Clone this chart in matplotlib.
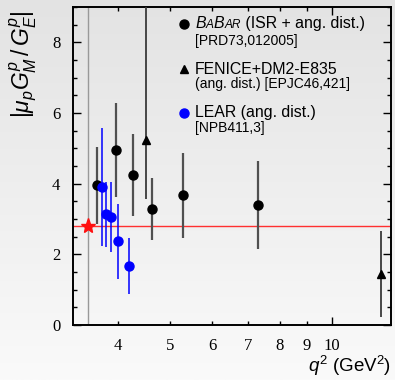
import matplotlib
matplotlib.use('Agg')
import matplotlib.pyplot as plt
import numpy as np
from matplotlib.colors import LinearSegmentedColormap
from matplotlib.ticker import FixedLocator, NullFormatter
from matplotlib.offsetbox import TextArea, HPacker, AnnotationBbox

plt.rcParams['mathtext.fontset'] = 'custom'
plt.rcParams['mathtext.rm'] = 'Liberation Sans'
plt.rcParams['mathtext.it'] = 'Liberation Sans:italic'
plt.rcParams['font.family'] = 'Liberation Sans'

# BaBar (ISR + angular distribution)
babar_q2 = [3.66, 3.97, 4.26, 4.63, 5.29, 7.28]
babar_r = [3.95, 4.96, 4.24, 3.29, 3.67, 3.40]
babar_err = [1.10, 1.33, 1.16, 0.88, 1.21, 1.25]

# FENICE + DM2 + E835
fenice_q2 = [4.51, 12.35]
fenice_r = [5.24, 1.44]
fenice_lo = [1.68, 1.22]
fenice_hi = [4.50, 1.22]

# LEAR
lear_q2 = [3.74, 3.80, 3.89, 4.00, 4.20]
lear_r = [3.90, 3.13, 3.06, 2.37, 1.67]
lear_err = [1.67, 0.91, 0.98, 1.06, 0.79]

threshold_q2 = 3.52
threshold_r = 2.79

xticks_major = [10]
xticks_minor = [4, 5, 6, 7, 8, 9]

fig = plt.figure(figsize=(3.95, 3.80), dpi=100)

# grey gradient background
bg = fig.add_axes([0, 0, 1, 1], zorder=-10)
bg.axis('off')
grad = np.linspace(0, 1, 256).reshape(-1, 1)
cmap = LinearSegmentedColormap.from_list('bg', ['#e3e3e3', '#fafafa'])
bg.imshow(grad, aspect='auto', cmap=cmap, extent=[0, 1, 0, 1], origin='upper')
bg.set_xlim(0, 1)
bg.set_ylim(0, 1)

ax = fig.add_axes([73/395, 55/380, 318/395, 318/380])
ax.set_facecolor('none')
ax.set_xscale('log')
ax.set_xlim(3.30, 12.9)
ax.set_ylim(0, 9)

ax.axvline(threshold_q2, color='#999999', lw=1.0, zorder=1)
ax.axhline(threshold_r, color='#ff3030', lw=1.0, zorder=1)
ax.plot([threshold_q2], [threshold_r], marker='*', color='#ff1010', ms=11, mec='#ff1010',
        ls='none', zorder=6, clip_on=False)

ax.errorbar(babar_q2, babar_r, yerr=babar_err, fmt='o', color='black', ms=6.5,
            ecolor='#505050', elinewidth=1.6, capsize=0, zorder=4)
ax.errorbar(fenice_q2, fenice_r, yerr=[fenice_lo, fenice_hi], fmt='^', color='black', ms=5.5,
            ecolor='#3a3a3a', elinewidth=1.3, capsize=0, zorder=4)
ax.errorbar(lear_q2, lear_r, yerr=lear_err, fmt='o', color='#0000ff', ms=6.5,
            ecolor='#0000ff', elinewidth=1.1, capsize=0, zorder=5)

for s in ax.spines.values():
    s.set_linewidth(1.4)

ax.xaxis.set_major_locator(FixedLocator(xticks_major))
ax.xaxis.set_minor_locator(FixedLocator(xticks_minor))
ax.xaxis.set_major_formatter(plt.FuncFormatter(lambda v, p: '%d' % v))
ax.xaxis.set_minor_formatter(plt.FuncFormatter(lambda v, p: '%d' % v))
ax.set_yticks([0, 2, 4, 6, 8])
ax.yaxis.set_minor_locator(FixedLocator(np.arange(0, 9.01, 0.5)))
ax.yaxis.set_minor_formatter(NullFormatter())

ax.tick_params(which='both', direction='in', top=True, right=True, width=1.0)
ax.tick_params(which='major', axis='y', length=6)
ax.tick_params(which='minor', axis='y', length=3)
ax.tick_params(which='major', axis='x', length=5.5)
ax.tick_params(which='minor', axis='x', length=2.8)
ax.tick_params(axis='both', which='both', labelsize=12, pad=9)
for lbl in ax.get_xticklabels(minor=True) + ax.get_xticklabels() + ax.get_yticklabels():
    lbl.set_family('Liberation Serif')

# legend drawn by hand
mx, tx = 0.349, 0.384
ax.plot([mx], [0.947], 'o', color='black', ms=6.5, transform=ax.transAxes, clip_on=False)
ax.plot([mx], [0.805], '^', color='black', ms=5.5, transform=ax.transAxes, clip_on=False)
ax.plot([mx], [0.668], 'o', color='#0000ff', ms=6.5, transform=ax.transAxes, clip_on=False)

big, small = 11.4, 8.6
parts = [TextArea('B', textprops=dict(fontsize=big, style='italic')),
         TextArea('A', textprops=dict(fontsize=small, style='italic')),
         TextArea('B', textprops=dict(fontsize=big, style='italic')),
         TextArea('AR', textprops=dict(fontsize=small, style='italic')),
         TextArea(' (ISR + ang. dist.)', textprops=dict(fontsize=big))]
box = HPacker(children=parts, align='baseline', pad=0, sep=0)
ab = AnnotationBbox(box, (tx, 0.947), xycoords='axes fraction', box_alignment=(0, 0.5),
                    frameon=False, pad=0)
ax.add_artist(ab)
ax.text(tx, 0.893, '[PRD73,012005]', transform=ax.transAxes, fontsize=10, va='center')
ax.text(tx, 0.805, 'FENICE+DM2-E835', transform=ax.transAxes, fontsize=big, va='center')
ax.text(tx, 0.758, '(ang. dist.) [EPJC46,421]', transform=ax.transAxes, fontsize=10, va='center')
ax.text(tx, 0.668, 'LEAR (ang. dist.)', transform=ax.transAxes, fontsize=big, va='center')
ax.text(tx, 0.618, '[NPB411,3]', transform=ax.transAxes, fontsize=10, va='center')

fig.text(0.060, 0.832, r'$|\mu_p G_M^p\,/\,G_E^p|$', rotation=90, ha='center', va='center',
         fontsize=16.5)
fig.text(0.990, 0.006, r'$q^2$ (GeV$^2$)', ha='right', va='bottom', fontsize=13.5)

fig.savefig('out.png', dpi=100)
